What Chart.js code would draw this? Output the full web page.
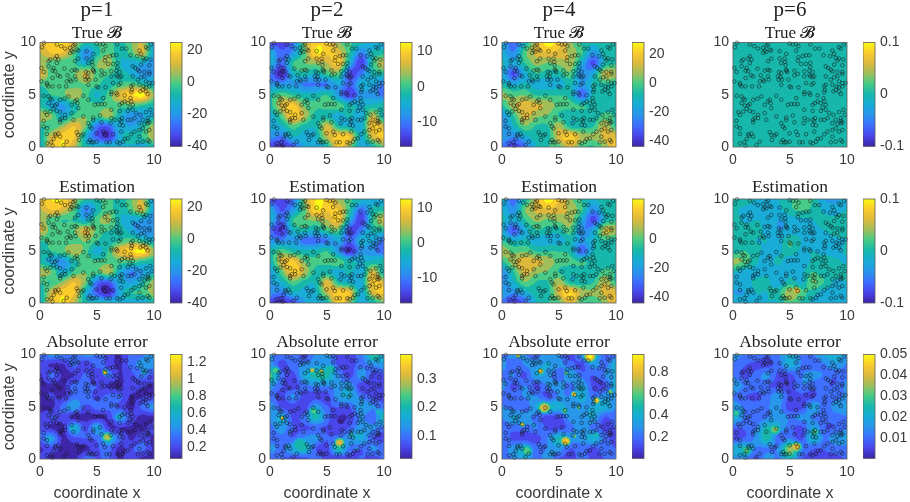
<!DOCTYPE html>
<html>
<head>
<meta charset="utf-8">
<script src="https://cdn.jsdelivr.net/npm/chart.js@4"></script>
<style>
  html, body { margin: 0; padding: 0; background: #fff; }
  #page { position: relative; width: 910px; height: 502px; overflow: hidden; }
  canvas { position: absolute; }
</style>
</head>
<body>
<div id="page"></div>
<script>
const columnTitles = ['p=1', 'p=2', 'p=4', 'p=6']
const rowTitles = ['True 𝓑', 'Estimation', 'Absolute error']

// sample locations, the same in every panel
const pointsX = [.35,.17,1.48,1.86,2.2,2.64,2.93,3.07,2.78,2.64,3.22,2.93,3.36,4.96,5.25,5.54,5.74,5.54,6.78,7.19,7.57,8.72,8.87,9.3,9.74,9.45,4.09,4.67,
  1.48,1.62,1.33,.9,.75,1.48,3.07,3.36,4.09,4.52,4.58,4.23,4.61,5.68,5.74,6.12,6.41,6.7,5.97,6.41,6.78,7.94,8.52,9.01,9.3,9.68,9.16,8.87,9.59,8.14,8.35,8.58,8.72,.12,.32,.75,1.19,1.1,1.33,2.14,2.78,3.07,3.22,4.03,4.23,4.7,4.64,4.75,5.39,6.26,6.7,6.99,9.16,9.59,6.78,
  .12,.61,1.1,1.57,1.77,2.43,2.35,2.72,3.07,3.13,2.64,3.94,4.17,4,4.29,4.87,5.39,5.68,6.26,6.41,6.99,6.7,6.78,7.13,8.14,8.58,8.87,9.16,9.59,9.3,9.59,9.88,.75,1.1,1.68,2.29,4.23,4.96,5.74,6.9,7.07,8,8.14,8.72,9.1,9.3,9.59,
  .32,.75,.9,1.04,1.77,2.14,2.49,3.8,4.23,5.54,6.26,6.26,6.7,6.78,7.42,7.94,8,8.06,9.3,9.45,8.81,9.01,5.1,.61,.75,1.48,3.07,3.22,2.78,7.42,7.19,6.99,7.71,8,8.14,4.81,5.1,5.39,5.68,
  .46,.61,.9,1.19,1.48,1.77,1.04,1.33,2.2,2.78,3.36,3.3,3.8,4.67,5.25,4.67,6.26,6.26,6.55,6.99,7.19,6.99,7.71,8.14,7.86,8.43,8.81,9.3,9.68,9.8,9.45,9.01,8,8.29,1.77,1.91,2.2,2.93,9.45,
  .32,.32,.61,1.77,4.23,4.38,4.52,5.39,6.2,7.13,7.71,6.99,7.28,9.45,9.16,9.59,8.72,8.72,9.01,9.3,9.59,8.29,8,.61,1.33,1.62,1.39,1.77,1.19,.99,1.1,2.06,2.35,3.22,3.36,3.8,3.65,4.96,5.54,5.68,6.41,7.13,5.83,6.12,4.38,4.52,4.67,4.96,4.23,3.42,6.78,6.99,7.71,7.42,8.72,9.45,9.59,9.01,8.58,7.28,.61]
const pointsY = [9.97,9.55,9.81,9.65,9.42,9.49,9.71,9.81,9.23,9.01,9.33,9.1,9.23,9.9,9.81,9.87,9.65,9.23,9.81,9.42,9.42,9.23,8.91,9.55,9.81,9.42,9.17,8.91,
  8.69,8.37,8.46,8.37,8.21,8.04,8.21,8.46,8.46,8.46,8.14,8.04,7.82,8.27,8.59,8.69,8.78,8.78,7.95,7.95,8.04,8.78,8.69,8.53,8.46,8.37,8.27,7.88,7.82,7.72,7.56,7.4,7.24,7.56,7.18,7.72,7.56,7.31,7.24,7.5,7.31,7.4,7.31,7.18,7.08,7.31,7.4,7.18,7.31,7.24,7.31,7.18,7.18,7.18,7.63,
  6.28,6.12,6.6,6.86,6.76,6.86,6.28,6.28,6.76,6.44,6.44,6.76,6.67,6.44,6.44,6.44,6.86,6.99,6.76,6.12,6.67,6.92,6.76,6.76,6.76,6.44,6.67,6.76,6.99,6.28,6.12,6.12,5.8,5.8,5.8,5.8,5.96,5.8,5.71,5.96,6.12,5.8,5.96,5.96,5.8,5.71,5.8,
  4.9,4.84,4.62,4.52,4.52,4.62,4.84,4.9,4.52,4.68,5.26,5.06,5.16,5,4.94,4.68,5.26,5.48,5.32,5.06,5.32,5.48,5.71,5.96,4.2,4.1,4.36,4.52,4.04,4.36,4.2,4.04,4.2,4.36,4.04,4.04,4.1,4.1,4.1,
  3.33,3.08,3.4,3.65,3.46,3.33,3.97,3.97,3.08,3.24,3.72,4.2,2.92,2.82,3.01,2.6,3.56,2.76,2.6,2.6,2.76,3.46,3.46,3.56,3.78,3.24,3.08,3.33,3.56,3.08,2.76,2.6,2.6,2.76,2.6,2.76,2.76,2.6,2.5,
  2.5,1.96,1.79,2.37,2.28,1.96,1.79,2.37,2.28,2.44,2.6,2.12,2.05,2.28,2.18,2.37,2.28,1.63,1.79,1.47,1.63,1.47,1.22,1.25,1.22,1.28,1.09,.99,.77,.45,.13,.19,.51,1.41,1.15,1.22,1.09,1.31,1.47,1.15,1.22,1.47,.45,.45,.67,.45,.45,.51,.45,.67,.45,.35,.83,.77,.99,.67,.51,.51,.45,.51,.35]

// field values on the integer grid, rows from y=10 down to y=0, columns x=0..10
const trueP1 = [
  [12,20,22,10,-6,-3,-1,-8,2,8,-18],[8,16,14,0,-22,-8,2,-10,-1,10,-15],[6,-1,-3,-4,-12,2,6,-10,-14,-15,-22],
  [14,-1,0,2,10,0,-3,-7,-12,-20,-18],[-3,-2,-1,-1,2,-3,-7,-3,0,-5,-12],[-8,-4,0,8,-1,-12,-2,14,20,24,4],
  [-7,-15,-18,-7,-2,-3,-1,-1,0,-4,-8],[8,3,-14,-3,2,-1,6,-10,-22,-18,-12],[-3,-4,5,15,2,-26,-28,-12,-18,-8,6],
  [-10,10,20,16,-12,-30,-37,-15,-5,-4,8],[-12,14,22,8,-8,-10,-10,-12,-12,-15,-8]]
const estP1 = [
  [14,22,22,8,-5,-5,-1,-10,2,8,-20],[8,16,12,0,-24,-10,0,-10,-1,10,-18],[6,-1,-4,-5,-14,0,5,-10,-16,-16,-24],
  [12,-1,0,2,12,0,-4,-7,-14,-22,-20],[-4,-3,-1,-1,3,-4,-8,-4,0,-6,-14],[-8,-4,0,8,-1,-14,-3,14,20,24,5],
  [-7,-15,-20,-7,-2,-3,-1,-1,0,-5,-8],[6,2,-14,-3,2,-1,8,-12,-24,-18,-12],[-3,-4,4,15,2,-26,-30,-14,-18,-8,6],
  [-10,10,20,16,-12,-30,-39,-16,-5,-3,6],[-12,14,22,8,-8,-10,-10,-12,-14,-16,-8]]
const errP1 = [
  [.3,.42,.38,.3,.42,.34,.2,.1,.3,.35,.5],[.2,.1,.1,.28,.12,.3,.2,.1,.3,.42,.42],[.1,.28,.1,.12,.28,.12,.3,.12,.2,.32,.2],
  [.08,.1,.08,.3,.25,.24,.1,.1,.2,.14,.1],[.1,.14,.1,.3,.32,.2,.28,.28,.1,.12,.14],[.1,.08,.3,.48,.22,.3,.3,.22,.08,.3,.42],
  [.14,.25,.2,.08,.08,.1,.14,.45,.2,.08,.1],[.2,.1,.08,.55,.2,.5,.14,.12,.1,.08,.2],[.28,.45,.1,.22,.25,.28,.55,.28,.1,.22,.08],
  [.1,.2,.08,.07,.08,.22,.3,.08,.22,.28,.09],[.2,.08,.09,.07,.3,.24,.25,.1,.2,.08,.1]]

const trueP2 = [
  [-14,-14,-11,3,10,10,3,0,-3,-6,-6],[-5,-12,-8,1,11,9,7,-1,-10,-3,-2],[-4,-12,-1,2,3,5,9,-5,-15,-1,6],
  [-10,-17,-4,-2,-4,0,1,-14,-10,-3,-2],[-8,-8,-7,-10,-10,-10,-6,-12,-5,-6,-10],[-2,1,-1,-3,-3,-1,-8,-15,-8,-8,-11],
  [-2,6,9,2,0,1,1,-3,-4,-3,-2],[-5,1,10,5,-2,-3,-5,-3,-6,5,-4],[-6,-4,1,-2,-3,6,-2,-4,-5,9,5],
  [-8,-10,-4,-5,-4,5,10,8,-4,6,9],[-15,-17,-13,-6,-5,-3,9,3,-6,-3,2]]
const estP2 = [
  [-14,-15,-11,3,11,10,4,0,-3,-6,-6],[-6,-13,-8,1,11,9,8,-1,-11,-3,-2],[-4,-12,-1,2,3,5,9,-5,-15,-1,6],
  [-11,-16,-4,-2,-4,0,1,-14,-10,-3,-2],[-8,-9,-7,-11,-11,-10,-6,-12,-5,-6,-11],[-3,1,-2,-3,-3,-1,-8,-16,-8,-9,-12],
  [-3,6,9,2,0,1,1,-3,-4,-3,-2],[-7,1,10,5,-2,-3,-5,-3,-6,6,-4],[-7,-4,1,-2,-3,7,-2,-4,-5,9,6],
  [-8,-10,-4,-5,-4,5,10,8,-5,6,9],[-16,-17,-14,-7,-5,-3,10,3,-6,-3,2]]
const errP2 = [
  [.12,.1,.1,.06,.12,.14,.06,.06,.1,.2,.16],[.14,.06,.1,.12,.14,.14,.07,.06,.1,.12,.14],[.24,.1,.06,.16,.2,.2,.12,.06,.14,.06,.07],
  [.14,.08,.05,.1,.12,.12,.12,.14,.05,.07,.06],[.1,.06,.12,.06,.06,.06,.14,.16,.1,.07,.05],[.14,.07,.06,.05,.14,.08,.08,.08,.15,.12,.1],
  [.12,.16,.07,.1,.2,.1,.04,.05,.12,.08,.2],[.1,.14,.08,.07,.08,.07,.05,.08,.14,.12,.1],[.08,.1,.08,.12,.13,.08,.1,.14,.16,.08,.06],
  [.14,.1,.16,.2,.08,.06,.2,.1,.08,.12,.1],[.08,.08,.06,.06,.1,.06,.05,.06,.08,.06,.08]]

const trueP4 = [
  [-15,-32,-12,12,28,20,5,-5,-10,-5,-5],[-15,-25,0,12,16,14,8,-3,-22,-8,-5],[-10,-18,-5,5,2,5,8,-15,-35,-10,-5],
  [-15,-35,-15,-5,-8,-8,0,-25,-15,10,8],[-8,-15,-10,-15,-15,-15,-10,-20,-10,-5,-8],[5,0,2,-5,-5,-5,-8,-32,-10,-8,-5],
  [-5,8,15,12,8,0,-2,-5,-5,-8,-5],[-22,-5,13,5,2,-5,-10,-8,-10,-2,-5],[-25,-12,2,-5,-5,8,-8,-8,-5,10,-5],
  [-18,-25,-15,-8,-8,13,22,8,5,12,16],[-30,-38,-30,-12,-5,0,13,-2,-5,5,20]]
const estP4 = [
  [-15,-30,-10,12,28,18,5,-5,-12,-5,-8],[-12,-24,2,12,16,13,8,-3,-24,-8,-5],[-10,-16,-5,5,2,5,7,-15,-36,-12,-5],
  [-15,-34,-15,-5,-8,-8,0,-25,-18,10,8],[-5,-12,-10,-15,-15,-15,-10,-20,-12,-5,-8],[8,0,2,-5,-5,-5,-8,-32,-12,-8,-5],
  [-5,8,15,12,8,0,-2,-5,-5,-8,-5],[-24,-5,13,5,2,-5,-10,-8,-10,-2,-5],[-26,-12,2,-5,-5,8,-8,-8,-5,10,-5],
  [-18,-24,-15,-8,-8,13,24,8,5,12,16],[-30,-40,-32,-12,-5,0,14,-2,-5,5,18]]
const errP4 = [
  [.2,.3,.25,.2,.3,.25,.1,.3,.45,.15,.2],[.3,.15,.25,.3,.35,.28,.2,.12,.3,.2,.4],[.2,.25,.12,.35,.3,.15,.35,.2,.15,.25,.35],
  [.3,.12,.25,.12,.25,.3,.2,.35,.12,.12,.4],[.15,.2,.25,.25,.12,.25,.25,.4,.2,.3,.3],[.25,.2,.18,.35,.45,.4,.3,.3,.35,.4,.25],
  [.25,.35,.3,.2,.1,.12,.3,.3,.35,.15,.2],[.15,.2,.2,.25,.12,.1,.2,.3,.2,.12,.15],[.25,.12,.1,.1,.25,.45,.3,.3,.4,.2,.1],
  [.2,.3,.4,.2,.25,.3,.15,.2,.12,.2,.15],[.2,.25,.35,.2,.3,.15,.1,.2,.12,.15,.2]]

const trueP6 = [[0,0,0,0,0,0,0,0,0,0,0],[0,0,0,0,0,0,0,0,0,0,0],[0,0,0,0,0,0,0,0,0,0,0],[0,0,0,0,0,0,0,0,0,0,0],[0,0,0,0,0,0,0,0,0,0,0],
  [0,0,0,0,0,0,0,0,0,0,0],[0,0,0,0,0,0,0,0,0,0,0],[0,0,0,0,0,0,0,0,0,0,0],[0,0,0,0,0,0,0,0,0,0,0],[0,0,0,0,0,0,0,0,0,0,0],[0,0,0,0,0,0,0,0,0,0,0]]
const estP6 = [
  [-.005,.005,-.01,-.015,-.01,.005,.025,.008,-.03,-.035,-.02],[-.005,-.015,-.02,-.01,-.015,.005,.015,.005,-.015,-.02,-.01],[.005,-.015,-.01,-.015,-.03,-.02,-.015,-.01,-.005,-.005,.005],
  [.01,.005,-.005,-.015,-.03,-.025,-.02,-.015,-.01,0,-.005],[.005,0,-.01,-.01,-.02,.01,-.01,-.02,-.025,-.015,-.01],[0,.01,-.005,-.015,-.015,.005,-.015,-.01,-.02,-.02,-.005],
  [.04,.025,-.005,-.02,-.005,-.025,-.025,-.005,.005,-.005,-.015],[-.005,-.02,-.02,-.015,-.025,-.015,-.015,.01,-.005,0,.005],[-.025,-.02,-.005,-.005,-.025,0,-.015,.03,.01,-.015,-.01],
  [-.03,-.03,-.01,-.01,.005,.045,.02,0,-.02,-.02,-.025],[-.025,-.02,-.015,-.01,-.01,.025,.005,-.015,-.02,-.025,-.02]]
const errP6 = [
  [.015,.012,.012,.008,.012,.02,.012,.012,.018,.022,.015],[.012,.008,.006,.006,.01,.02,.012,.01,.012,.016,.012],[.012,.006,.01,.014,.006,.006,.012,.014,.012,.008,.012],
  [.018,.012,.012,.008,.006,.005,.012,.01,.008,.008,.014],[.012,.008,.006,.01,.016,.006,.006,.006,.012,.01,.014],[.016,.012,.01,.012,.014,.004,.005,.018,.01,.015,.018],
  [.022,.012,.008,.012,.016,.012,.014,.012,.01,.01,.012],[.008,.008,.012,.024,.018,.01,.006,.018,.008,.008,.012],[.006,.008,.014,.026,.008,.012,.006,.022,.012,.016,.018],
  [.02,.022,.012,.012,.014,.035,.014,.008,.008,.01,.01],[.016,.014,.006,.016,.012,.022,.008,.006,.006,.006,.008]]

// small hot spots narrower than the grid: x, y, peak value, radius
const peaksErrP1 = [[5.7,8.3,1.25,.3],[9.1,8.3,.6,.3],[5.9,2.1,1,.5],[2.8,3,.6,.3],[.8,1.9,.5,.4],[6.8,4,.55,.3]]
const peaksErrP2 = [[1.1,3.9,.38,.2],[3.7,8.5,.33,.25],[4.5,8.4,.3,.25],[6.1,1.6,.33,.5],[7.2,2.3,.25,.2],[3.8,4.6,.24,.4],[2.6,1.5,.22,.6],[.5,8.5,.25,.4],[5.3,8.6,.22,.5],[9.1,9.9,.22,.5],[9.5,4.5,.2,.3],[7.6,1,.22,.15]]
const peaksErrP4 = [[1.4,9.9,.85,.25],[7.7,9.8,.95,.6],[3.4,8.4,.9,.3],[5.6,8.2,.7,.2],[6.3,6.2,.85,.3],[8.3,5.6,.9,.35],[9.5,6.4,.75,.25],[3.7,4.9,.8,.6],[5.5,4.6,.65,.3],[6.7,4.9,.7,.2],[1.8,3.3,.9,.25],[5.6,1.7,.9,.5],[6.4,2.2,.7,.2],[2.2,.8,.6,.5],[8.3,2.3,.5,.3]]
const peaksErrP6 = [[5.6,1.2,.043,.5],[3.7,2.8,.034,.5],[7.2,2.6,.03,.35],[.3,4.4,.03,.3],[1.2,.8,.03,.5]]
const peaksEstP6 = [[5.6,1.2,.06,.4]]

// colour ranges and colorbar ticks
const rangesP1 = [[-40,25],[-40,25],[.06,1.29]]
const rangesP2 = [[-17,12.6],[-17,12.6],[.023,.384]]
const rangesP4 = [[-44,28],[-44,28],[.006,.957]]
const rangesP6 = [[-.1,.1],[-.1,.1],[0,.05]]
const ticksP1 = [[-40,-20,0,20],[-40,-20,0,20],[.2,.4,.6,.8,1,1.2]]
const ticksP2 = [[-10,0,10],[-10,0,10],[.1,.2,.3]]
const ticksP4 = [[-40,-20,0,20],[-40,-20,0,20],[.2,.4,.6,.8]]
const ticksP6 = [[-.1,0,.1],[-.1,0,.1],[.01,.02,.03,.04,.05]]

const fieldGrids = [[trueP1,estP1,errP1],[trueP2,estP2,errP2],[trueP4,estP4,errP4],[trueP6,estP6,errP6]]
const fieldPeaks = [[[],[],peaksErrP1],[[],[],peaksErrP2],[[],[],peaksErrP4],[[],peaksEstP6,peaksErrP6]]
const fieldRanges = [rangesP1,rangesP2,rangesP4,rangesP6]
const fieldTicks = [ticksP1,ticksP2,ticksP4,ticksP6]

// layout of the subplots
const plotLefts = [40, 270, 502, 733]
const plotTops = [42.5, 199, 354.5]
const plotW = 114
const plotH = 104
const barGap = 16
const barW = 12
const LEVELS = 10

const parulaStops = [[62,38,168],[72,71,235],[62,111,255],[39,150,235],[24,172,215],[23,183,171],[72,203,134],[160,190,90],[222,185,60],[250,205,45],[249,251,21]]

function parula(t) {
    t = Math.max(0, Math.min(1, t)) * 10
    let i = Math.min(9, Math.floor(t))
    let f = t - i
    let a = parulaStops[i], b = parulaStops[i + 1]
    return [a[0] + (b[0] - a[0]) * f, a[1] + (b[1] - a[1]) * f, a[2] + (b[2] - a[2]) * f]
}

function cubic(p0, p1, p2, p3, f) {
    return p1 + 0.5 * f * (p2 - p0 + f * (2 * p0 - 5 * p1 + 4 * p2 - p3 + f * (3 * (p1 - p2) + p3 - p0)))
}

// read the contour field at a data position
function readField(grid, peaks, x, y) {
    let fx = Math.max(0, Math.min(10, x))
    let fy = Math.max(0, Math.min(10, 10 - y))
    let ix = Math.min(9, Math.floor(fx)), iy = Math.min(9, Math.floor(fy))
    let rows = []
    for (let r = -1; r <= 2; r++) {
        let row = grid[Math.max(0, Math.min(10, iy + r))]
        let c = k => row[Math.max(0, Math.min(10, ix + k))]
        rows.push(cubic(c(-1), c(0), c(1), c(2), fx - ix))
    }
    let v = cubic(rows[0], rows[1], rows[2], rows[3], fy - iy)
    peaks.forEach(([px, py, pv, pr]) => {
        let d = Math.hypot(px - x, py - y) / pr
        if (d < 1) v = Math.max(v, pv - (pv - v) * d * d)
    })
    return v
}

function contourPlugin(grid, peaks, range) {
    return {
        id: 'contour',
        beforeDatasetsDraw(chart) {
            let { ctx, chartArea: a, scales } = chart
            let m = 3
            let w = Math.ceil(a.width) + 2 * m, h = Math.ceil(a.height) + 2 * m
            let off = document.createElement('canvas')
            off.width = w
            off.height = h
            let oc = off.getContext('2d')
            let img = oc.createImageData(w, h)
            for (let j = 0; j < h; j++) {
                for (let i = 0; i < w; i++) {
                    let x = scales.x.getValueForPixel(a.left + i - m + 0.5)
                    let y = scales.y.getValueForPixel(a.top + j - m + 0.5)
                    let t = (readField(grid, peaks, x, y) - range[0]) / (range[1] - range[0])
                    let col = parula(Math.round(Math.max(0, Math.min(1, t)) * LEVELS) / LEVELS)
                    let o = (j * w + i) * 4
                    img.data[o] = col[0]
                    img.data[o + 1] = col[1]
                    img.data[o + 2] = col[2]
                    img.data[o + 3] = 255
                }
            }
            oc.putImageData(img, 0, 0)
            ctx.save()
            ctx.beginPath()
            ctx.rect(a.left, a.top, a.width, a.height)
            ctx.clip()
            ctx.filter = 'blur(0.5px)'
            ctx.drawImage(off, a.left - m, a.top - m)
            ctx.restore()
        },
    }
}

const framePlugin = {
    id: 'frame',
    afterDatasetsDraw(chart) {
        let { ctx, chartArea: a } = chart
        ctx.save()
        ctx.strokeStyle = '#5a5a5a'
        ctx.lineWidth = 0.8
        ctx.strokeRect(a.left, a.top, a.width, a.height)
        ctx.restore()
    },
}

function addCanvas(left, top, width, height) {
    let canvas = document.createElement('canvas')
    canvas.style.left = left + 'px'
    canvas.style.top = top + 'px'
    canvas.style.width = width + 'px'
    canvas.style.height = height + 'px'
    canvas.width = width
    canvas.height = height
    document.getElementById('page').append(canvas)
    return canvas
}

const tickFont = { family: 'Liberation Sans', size: 14 }
const labelFont = { family: 'Liberation Sans', size: 16 }
const textColor = '#3a3a3a'

function addPanel(col, row) {
    let left = plotLefts[col], top = plotTops[row]
    let margin = 40, bottom = 44
    let canvasTop = row === 0 ? 0 : Math.floor(top) - 24
    let titleH = row === 0 ? 43 : 20.5
    let points = pointsX.map((x, i) => ({ x, y: pointsY[i] }))
    new Chart(addCanvas(left - margin, canvasTop, plotW + 2 * margin, Math.ceil(top - canvasTop) + plotH + bottom), {
        type: 'scatter',
        data: {
            datasets: [{
                data: points,
                pointStyle: 'circle',
                pointRadius: 1.8,
                borderWidth: 0.6,
                borderColor: 'rgba(20,20,20,0.85)',
                backgroundColor: 'rgba(0,0,0,0)',
                clip: false,
            }],
        },
        options: {
            responsive: false,
            animation: false,
            events: [],
            devicePixelRatio: 1,
            layout: { padding: { left: 0, right: 0, top: top - canvasTop - titleH, bottom: 0 } },
            scales: {
                x: {
                    type: 'linear', min: 0, max: 10,
                    grid: { display: false, drawTicks: false },
                    border: { display: false },
                    ticks: { stepSize: 5, font: tickFont, color: textColor, padding: 5, maxRotation: 0 },
                    title: { display: row === 2, text: 'coordinate x', font: labelFont, color: textColor, padding: 0 },
                    afterFit(scale) { scale.height = bottom; scale.paddingLeft = 0; scale.paddingRight = 0 },
                },
                y: {
                    type: 'linear', min: 0, max: 10,
                    grid: { display: false, drawTicks: false },
                    border: { display: false },
                    ticks: { stepSize: 5, font: tickFont, color: textColor, padding: 4 },
                    title: { display: col === 0, text: 'coordinate y', font: labelFont, color: textColor, padding: 0 },
                    afterFit(scale) { scale.width = margin; scale.paddingTop = 0; scale.paddingBottom = 0 },
                },
                // empty axis, keeps the plot centred under its title
                yBlank: {
                    type: 'linear', position: 'right', min: 0, max: 10,
                    grid: { display: false, drawTicks: false },
                    border: { display: false },
                    ticks: { display: false },
                    afterFit(scale) { scale.width = margin; scale.paddingTop = 0; scale.paddingBottom = 0 },
                },
            },
            plugins: {
                legend: { display: false },
                tooltip: { enabled: false },
                title: row === 0
                    ? { display: true, text: columnTitles[col], color: '#222', font: { family: 'Liberation Serif', size: 21, weight: 'normal', lineHeight: 1 }, padding: { top: 0, bottom: 5 } }
                    : { display: true, text: rowTitles[row], color: '#222', font: { family: 'Liberation Serif', size: 17.5, weight: 'normal', lineHeight: 1 }, padding: { top: 0, bottom: 3 } },
                subtitle: {
                    display: row === 0, text: rowTitles[0], color: '#222',
                    font: { family: 'Liberation Serif', size: 17, weight: 'normal', lineHeight: 1 }, padding: { top: 0, bottom: 0 },
                },
            },
        },
        plugins: [contourPlugin(fieldGrids[col][row], fieldPeaks[col][row], fieldRanges[col][row]), framePlugin],
    })
}

function addColorbar(col, row) {
    let [lo, hi] = fieldRanges[col][row]
    let ticks = fieldTicks[col][row]
    let left = plotLefts[col] + plotW + barGap
    let top = plotTops[row]
    let pad = 10
    let axisW = 40
    let steps = 64
    let datasets = []
    for (let i = 0; i < steps; i++) {
        let c = parula((i + 0.5) / steps)
        datasets.push({
            data: [[lo + (hi - lo) * i / steps, lo + (hi - lo) * Math.min(steps, i + 1.15) / steps]],
            backgroundColor: `rgb(${c[0]},${c[1]},${c[2]})`,
            borderWidth: 0,
            barPercentage: 1,
            categoryPercentage: 1,
            grouped: false,
        })
    }
    new Chart(addCanvas(left, Math.floor(top) - pad, barW + axisW, plotH + 2 * pad + 1), {
        type: 'bar',
        data: { labels: [''], datasets },
        options: {
            responsive: false,
            animation: false,
            events: [],
            devicePixelRatio: 1,
            layout: { padding: { left: 0, right: 0, top: pad + top - Math.floor(top), bottom: pad + 1 - (top - Math.floor(top)) } },
            scales: {
                x: { display: false, grid: { display: false } },
                y: {
                    position: 'right', min: lo, max: hi,
                    grid: { display: false, drawTicks: false },
                    border: { display: false },
                    afterBuildTicks(scale) { scale.ticks = ticks.map(value => ({ value })) },
                    ticks: { font: tickFont, color: textColor, padding: 5, autoSkip: false, callback: v => String(v) },
                    afterFit(scale) { scale.width = axisW; scale.paddingTop = 0; scale.paddingBottom = 0 },
                },
            },
            plugins: { legend: { display: false }, tooltip: { enabled: false } },
        },
        plugins: [framePlugin],
    })
}

for (let col = 0; col < 4; col++) {
    for (let row = 0; row < 3; row++) {
        addPanel(col, row)
        addColorbar(col, row)
    }
}
</script>
</body>
</html>
